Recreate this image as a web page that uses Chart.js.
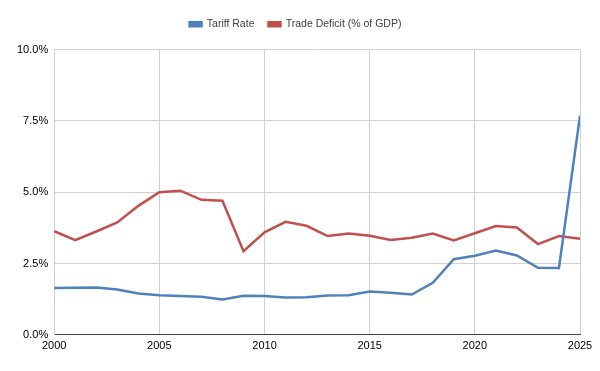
<!DOCTYPE html>
<html>
<head>
<meta charset="utf-8">
<script src="https://cdn.jsdelivr.net/npm/chart.js@4"></script>
<style>
	html, body { margin: 0; padding: 0; background: #fff; }
	#wrap { width: 600px; height: 371px; }
</style>
</head>
<body>
<div id="wrap"><canvas id="myChart" width="600" height="371"></canvas></div>
<script>
const years = [2000, 2001, 2002, 2003, 2004, 2005, 2006, 2007, 2008, 2009, 2010, 2011, 2012,
	2013, 2014, 2015, 2016, 2017, 2018, 2019, 2020, 2021, 2022, 2023, 2024, 2025];
const tariffRate = [1.64, 1.65, 1.66, 1.59, 1.45, 1.39, 1.36, 1.33, 1.24, 1.37, 1.36, 1.31, 1.32,
	1.38, 1.39, 1.52, 1.47, 1.41, 1.82, 2.65, 2.77, 2.95, 2.78, 2.35, 2.34, 7.68];
const tradeDeficit = [3.63, 3.32, 3.62, 3.94, 4.52, 5.0, 5.05, 4.73, 4.70, 2.93, 3.59, 3.96, 3.82,
	3.46, 3.55, 3.47, 3.32, 3.40, 3.55, 3.31, 3.56, 3.81, 3.76, 3.18, 3.46, 3.37];

const FONT = "'Liberation Sans', Arial, sans-serif";
Chart.defaults.font.family = FONT;
Chart.defaults.font.size = 11;
Chart.defaults.color = "#404040";

// extra room under the legend
const legendGap = {
	id: "legendGap",
	beforeInit(chart) {
		const fit = chart.legend.fit;
		chart.legend.fit = function () {
			fit.bind(chart.legend)();
			this.height += 10;
		};
	},
};

const ctx = document.getElementById("myChart");

const myChart = new Chart(ctx, {
	type: "line",
	data: {
		datasets: [
			{
				label: "Tariff Rate",
				data: years.map((y, i) => ({ x: y, y: tariffRate[i] })),
				borderColor: "#4f81bd",
				backgroundColor: "#4f81bd",
				borderWidth: 2.5,
				pointRadius: 0,
				tension: 0,
			},
			{
				label: "Trade Deficit (% of GDP)",
				data: years.map((y, i) => ({ x: y, y: tradeDeficit[i] })),
				borderColor: "#c0504d",
				backgroundColor: "#c0504d",
				borderWidth: 2.5,
				pointRadius: 0,
				tension: 0,
			},
		],
	},
	plugins: [legendGap],
	options: {
		responsive: false,
		animation: false,
		layout: { padding: { left: 11, right: 20, top: 5, bottom: 13 } },
		plugins: {
			legend: {
				position: "top",
				labels: { boxWidth: 12, boxHeight: 4, padding: 14, color: "#404040", font: { size: 10.5 } },
			},
			tooltip: { enabled: false },
		},
		scales: {
			x: {
				type: "linear",
				min: 2000,
				max: 2025,
				ticks: { stepSize: 5, color: "#000", padding: 5, callback: (v) => String(v), maxRotation: 0 },
				grid: { color: "#d0d0d0", drawTicks: false },
				border: { color: "#404040" },
			},
			y: {
				min: 0,
				max: 10,
				ticks: { stepSize: 2.5, color: "#000", padding: 6, callback: (v) => v.toFixed(1) + "%" },
				grid: { color: "#d0d0d0", drawTicks: false },
				border: { color: "#d0d0d0" },
			},
		},
	},
});
</script>
</body>
</html>
